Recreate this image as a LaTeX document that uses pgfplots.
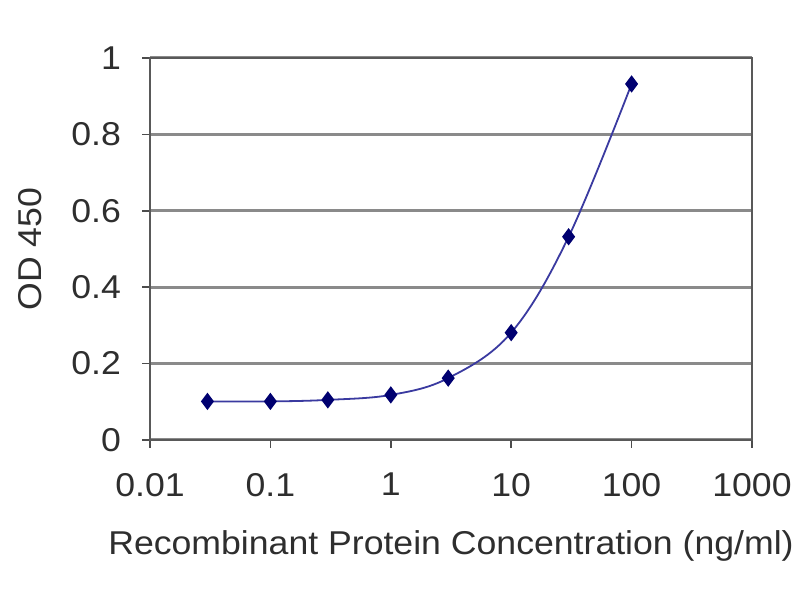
\documentclass[border=0pt]{standalone}
\usepackage{pgfplots}
\pgfplotsset{compat=1.18}
\usepackage{fontspec}
\setmainfont[FakeStretch=1.08]{Liberation Sans}
\definecolor{gridgray}{HTML}{8A8A8A}
\definecolor{navy}{HTML}{000070}
\definecolor{curve}{HTML}{3A3AA0}
\definecolor{txt}{HTML}{2E2E2E}
\begin{document}
\begin{tikzpicture}
\useasboundingbox (0,0) rectangle (400pt,300pt);
\begin{axis}[
  at={(75pt,80pt)}, anchor=south west,
  width=301pt, height=191pt, scale only axis,
  xmode=log, log basis x=10,
  xmin=0.01, xmax=1000, ymin=0, ymax=1,
  xtick={0.01,0.1,1,10,100,1000},
  xticklabels={0.01,0.1,1,10,100,1000},
  ytick={0,0.2,0.4,0.6,0.8,1},
  yticklabels={0,0.2,0.4,0.6,0.8,1},
  minor xtick={},
  tick align=outside, tick pos=left,
  major tick length=4pt,
  tick style={black!70, line width=0.8pt},
  ymajorgrids, grid style={gridgray, line width=1.5pt},
  axis line style={black!65, line width=1pt},
  tick label style={font=\fontsize{16.5}{20}\selectfont, text=txt},
  xticklabel style={yshift=-9pt},
  yticklabel style={xshift=-7pt},
  xlabel={Recombinant Protein Concentration (ng/ml)},
  ylabel={OD 450},
  label style={font=\fontsize{16.5}{20}\selectfont, text=txt},
  xlabel style={yshift=-10pt},
  ylabel style={yshift=8pt},
  clip=false,
]
\addplot[curve, line width=0.9pt, smooth, tension=0.6, mark=diamond*, mark size=3.6pt,
  mark options={fill=navy, draw=navy}]
  coordinates {
  (0.03,0.101) (0.1,0.101) (0.3,0.105) (1,0.118) (3,0.162) (10,0.281) (30,0.532) (100,0.932)
  };
\end{axis}
\end{tikzpicture}
\end{document}
